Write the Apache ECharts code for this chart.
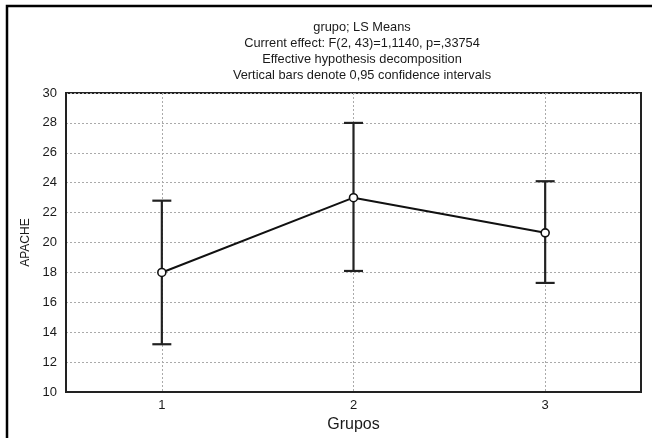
<!DOCTYPE html>
<html><head><meta charset="utf-8">
<script src="https://cdn.jsdelivr.net/npm/echarts@6/dist/echarts.min.js"></script>
<style>html,body{margin:0;padding:0;background:#fff}#c{width:652px;height:438px}</style>
</head><body><div id="c"></div>
<script>
const groups = [1, 2, 3];
const means = [18.0, 23.0, 20.65];
const lower = [13.2, 18.1, 17.3];
const upper = [22.8, 28.0, 24.1];
const titleLines = [
  'grupo; LS Means',
  'Current effect: F(2, 43)=1,1140, p=,33754',
  'Effective hypothesis decomposition',
  'Vertical bars denote 0,95 confidence intervals'
];
const yMin = 10, yMax = 30, yStep = 2;
const xName = 'Grupos', yName = 'APACHE';

const FONT = 'Liberation Sans';
const INK = '#1a1a1a';
const chart = echarts.init(document.getElementById('c'), null, {renderer: 'canvas'});
chart.setOption({
  animation: false,
  backgroundColor: '#fff',
  textStyle: {fontFamily: FONT},
  graphic: [{
    type: 'rect', z: 100, silent: true,
    shape: {x: 7, y: 6, width: 720, height: 500},
    style: {fill: null, stroke: '#000', lineWidth: 2.5}
  }],
  title: {
    text: titleLines.join('\n'),
    left: 357, top: 15, textAlign: 'center',
    textStyle: {fontFamily: FONT, fontSize: 12.8, fontWeight: 'normal', color: INK, lineHeight: 15.8}
  },
  grid: {left: 66, right: 11, top: 93, bottom: 44, show: true, borderColor: '#222', borderWidth: 2, backgroundColor: 'transparent'},
  xAxis: {
    type: 'value', min: 0.5, max: 3.5,
    name: xName, nameLocation: 'middle', nameGap: 13,
    nameTextStyle: {fontFamily: FONT, fontSize: 16, color: INK},
    axisLine: {show: true, lineStyle: {color: '#222', width: 2}},
    axisTick: {show: false, customValues: groups},
    axisLabel: {customValues: groups, fontFamily: FONT, fontSize: 13, color: INK, margin: 7, formatter: v => String(v)},
    splitLine: {show: true, lineStyle: {color: '#aaa', type: [2, 2], width: 1}}
  },
  yAxis: {
    type: 'value', min: yMin, max: yMax, interval: yStep,
    name: yName, nameLocation: 'middle', nameGap: 31, nameRotate: 90,
    nameTextStyle: {fontFamily: FONT, fontSize: 12, color: INK},
    axisLine: {show: true, lineStyle: {color: '#222', width: 2}},
    axisTick: {show: false},
    axisLabel: {fontFamily: FONT, fontSize: 13, color: INK, margin: 9},
    splitLine: {show: true, lineStyle: {color: '#aaa', type: [2, 2], width: 1}}
  },
  series: [
    {
      type: 'custom', z: 3,
      data: groups.map((g, i) => [g, lower[i], upper[i]]),
      encode: {x: 0, y: [1, 2]},
      renderItem(params, api) {
        const x = api.value(0);
        const pLo = api.coord([x, api.value(1)]);
        const pHi = api.coord([x, api.value(2)]);
        const hw = 9.5;
        const st = {stroke: '#222', lineWidth: 2.2};
        return {type: 'group', children: [
          {type: 'line', shape: {x1: pLo[0], y1: pLo[1], x2: pHi[0], y2: pHi[1]}, style: st},
          {type: 'line', shape: {x1: pHi[0] - hw, y1: pHi[1], x2: pHi[0] + hw, y2: pHi[1]}, style: st},
          {type: 'line', shape: {x1: pLo[0] - hw, y1: pLo[1], x2: pLo[0] + hw, y2: pLo[1]}, style: st}
        ]};
      }
    },
    {
      type: 'line', z: 5,
      data: groups.map((g, i) => [g, means[i]]),
      symbol: 'circle', symbolSize: 8,
      itemStyle: {color: '#fff', borderColor: '#111', borderWidth: 1.6},
      lineStyle: {color: '#111', width: 2}
    }
  ]
});
</script>
</body></html>
